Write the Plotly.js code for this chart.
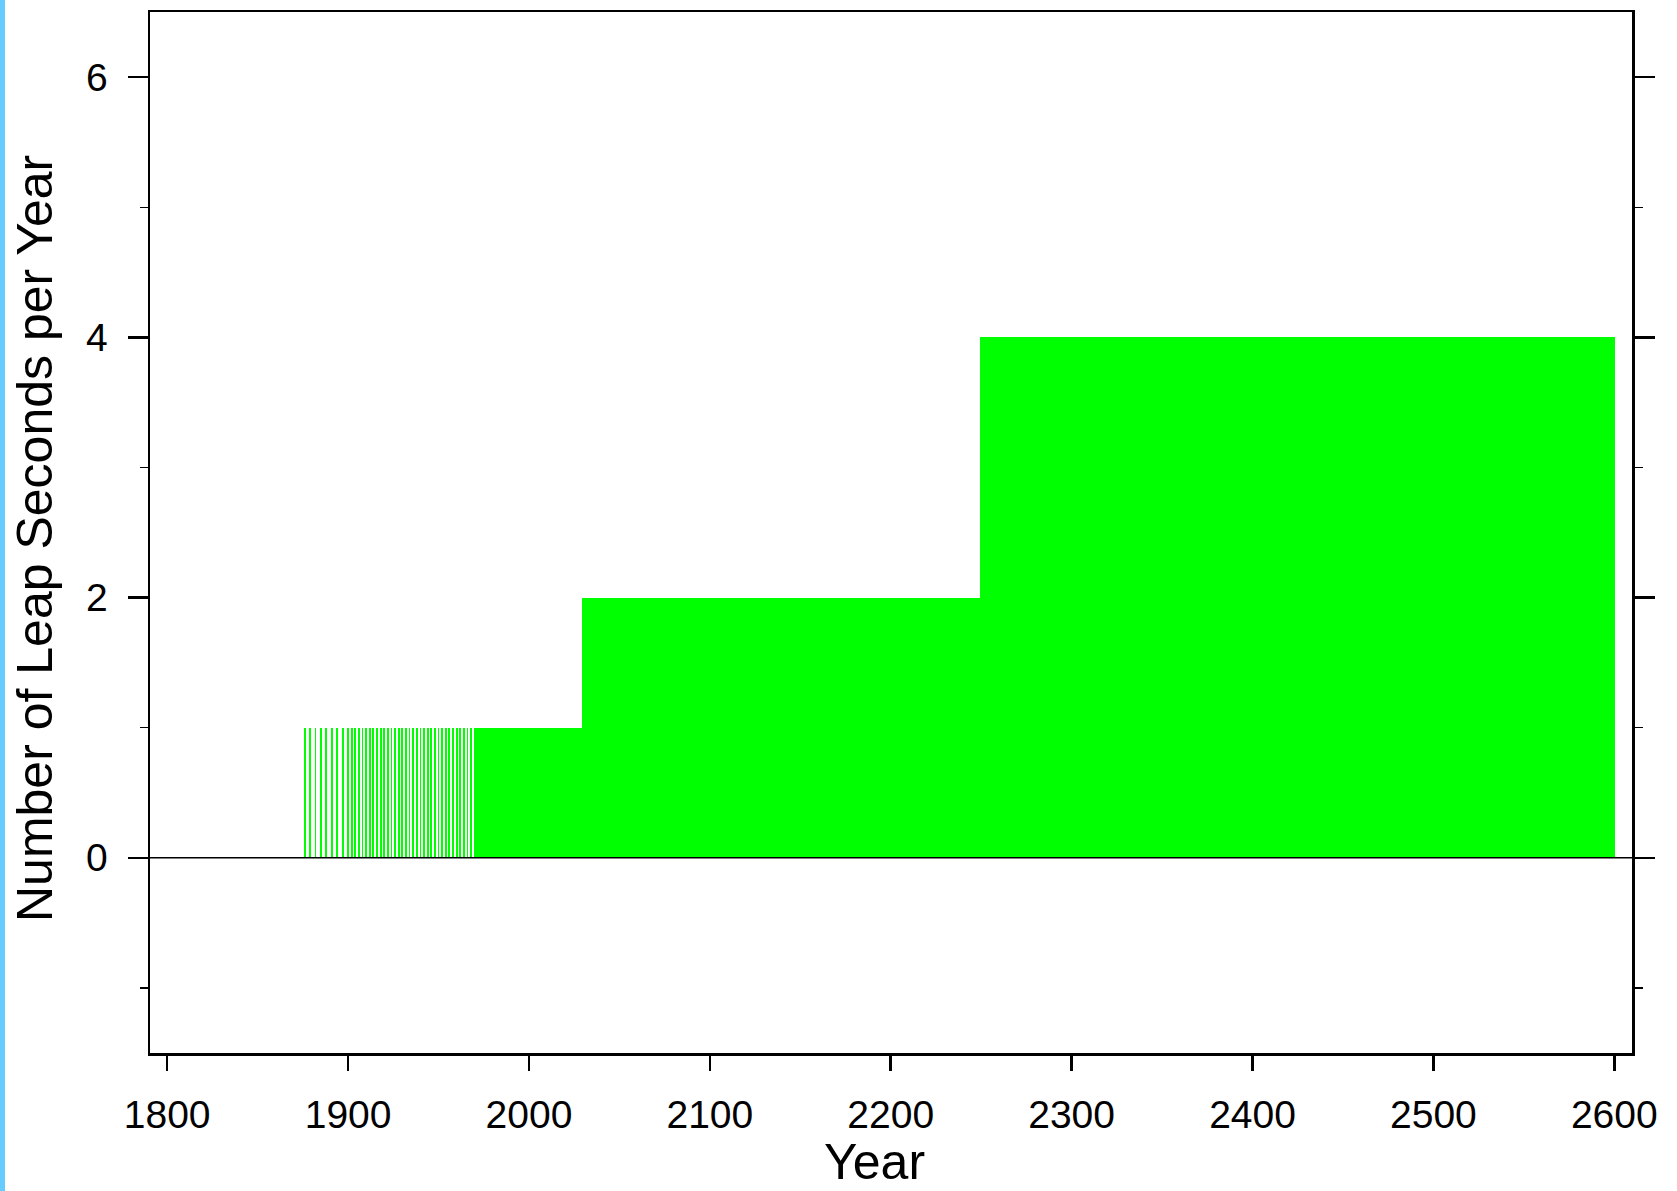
<!DOCTYPE html>
<html>
<head>
<meta charset="utf-8">
<script src="https://cdn.plot.ly/plotly-3.0.1.min.js"></script>
<style>
  html, body { margin: 0; padding: 0; background: #ffffff; }
  #chart { width: 1677px; height: 1191px; }
  #strip { position: absolute; left: 0; top: 0; width: 5px; height: 1191px; background: #66CCFF; z-index: 10; }
</style>
</head>
<body>
<div id="strip"></div>
<div id="chart"></div>
<script>
// Years (before 1970) in which a single leap second occurs
const sparseYears = [1876, 1879, 1882, 1885, 1888, 1891, 1894, 1897, 1900,
  1902, 1904, 1906, 1908, 1910, 1912, 1914, 1916, 1918, 1920,
  1922, 1924, 1926, 1928, 1930, 1932, 1934, 1936, 1938, 1940,
  1942, 1944, 1946, 1948, 1950, 1952, 1954, 1956, 1958, 1960,
  1962, 1964, 1966, 1968];
const sparseValues = sparseYears.map(() => 1);

// Continuous periods: every year from start to end (inclusive) has this many leap seconds
const segStartYear = [1970, 2030, 2250];
const segEndYear   = [2029, 2249, 2600];
const segValues    = [1, 2, 4];

const xTickVals  = [1800, 1900, 2000, 2100, 2200, 2300, 2400, 2500, 2600];
const xTickText  = ['1800', '1900', '2000', '2100', '2200', '2300', '2400', '2500', '2600'];
const yTickVals  = [0, 2, 4, 6];
const yTickText  = ['0', '2', '4', '6'];

const xTitle = 'Year';
const yTitle = 'Number of Leap Seconds per Year';

const green = '#00FF00';
const font = 'Liberation Sans, Arial, sans-serif';

const traces = [
  {
    type: 'bar',
    x: sparseYears,
    y: sparseValues,
    width: sparseYears.map(() => 1),
    marker: { color: green, line: { width: 0 } },
    hoverinfo: 'skip'
  },
  {
    type: 'bar',
    x: segStartYear.map((s, i) => (s + segEndYear[i]) / 2),
    y: segValues,
    width: segStartYear.map((s, i) => segEndYear[i] - s + 1),
    marker: { color: green, line: { width: 0 } },
    hoverinfo: 'skip'
  }
];

const layout = {
  width: 1677,
  height: 1191,
  paper_bgcolor: '#ffffff',
  plot_bgcolor: '#ffffff',
  showlegend: false,
  barmode: 'overlay',
  bargap: 0,
  margin: { l: 150, r: 45, t: 12, b: 138, pad: 0 },
  font: { family: font, color: '#000000', size: 39 },
  xaxis: {
    range: [1790.5, 2609.8],
    tickmode: 'array',
    tickvals: xTickVals,
    ticktext: xTickText,
    ticks: 'outside',
    ticklen: 15,
    tickwidth: 2.5,
    tickcolor: '#000000',
    showline: true,
    linecolor: '#000000',
    linewidth: 2.5,
    mirror: true,
    showgrid: false,
    zeroline: false,
    ticklabelstandoff: 11,
    tickfont: { family: font, size: 39, color: '#000000' }
  },
  yaxis: {
    range: [-1.5, 6.5],
    tickmode: 'array',
    tickvals: yTickVals,
    ticktext: yTickText,
    ticks: 'outside',
    ticklen: 20,
    tickwidth: 2.5,
    tickcolor: '#000000',
    minor: { dtick: 1, tick0: 0, ticks: 'outside', ticklen: 8, tickwidth: 1.2, tickcolor: '#000000', showgrid: false },
    showline: true,
    linecolor: '#000000',
    linewidth: 2.5,
    mirror: 'ticks',
    showgrid: false,
    zeroline: false,
    ticklabelstandoff: 12,
    tickfont: { family: font, size: 39, color: '#000000' }
  },
  annotations: [
    {
      text: xTitle, xref: 'paper', yref: 'paper',
      x: 0.489, y: -0.1045, xanchor: 'center', yanchor: 'middle',
      showarrow: false,
      font: { family: font, size: 50, color: '#000000' }
    },
    {
      text: yTitle, xref: 'paper', yref: 'paper',
      x: -0.0776, y: 0.4947, xanchor: 'center', yanchor: 'middle',
      textangle: -90, showarrow: false,
      font: { family: font, size: 50, color: '#000000' }
    }
  ],
  shapes: [
    {
      type: 'line', xref: 'paper', yref: 'y',
      x0: 0, x1: 1, y0: 0, y1: 0,
      line: { color: '#000000', width: 1.5 },
      layer: 'above'
    }
  ]
};

Plotly.newPlot('chart', traces, layout, { displayModeBar: false, staticPlot: true });
</script>
</body>
</html>
